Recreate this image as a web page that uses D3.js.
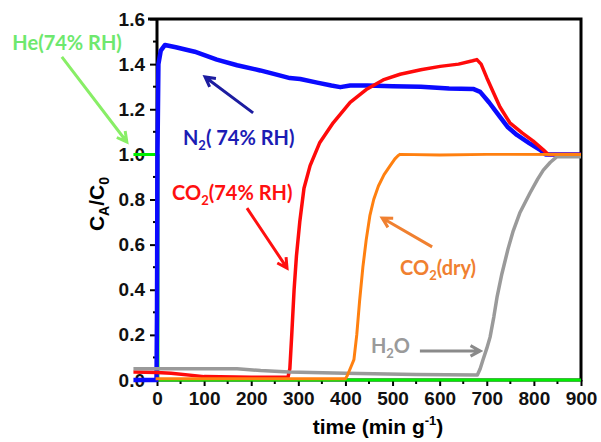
<!DOCTYPE html>
<html>
<head>
<meta charset="utf-8">
<script src="https://cdn.jsdelivr.net/npm/d3@7"></script>
<style>
body { margin: 0; background: #fff; }
svg { display: block; }
.tick text { font-family: "Liberation Sans", Arial, sans-serif; font-weight: bold; font-size: 19px; fill: #111; }
</style>
</head>
<body>
<div id="canvas"></div>
<script>
// time (min g-1), CA/C0
let heData = [[-50, 1.0], [2, 1.0], [2, 0.0], [900, 0.0]]
let n2Data = [[-50, 0.0], [-1, 0.0], [0, 0.3], [1, 1.0], [3, 1.40], [8, 1.46], [17, 1.485], [40, 1.475],
    [80, 1.455], [127, 1.42], [170, 1.395], [219, 1.372], [260, 1.35], [282, 1.338], [304, 1.334],
    [340, 1.318], [370, 1.305], [389, 1.298], [410, 1.305], [446, 1.305], [500, 1.302], [560, 1.30],
    [620, 1.292], [671, 1.29], [686, 1.277], [705, 1.23], [728, 1.166], [745, 1.12], [764, 1.086],
    [790, 1.05], [813, 1.02], [825, 1.0], [900, 1.0]]
let co2Data = [[-50, 0.035], [0, 0.033], [30, 0.03], [100, 0.015], [200, 0.012], [278, 0.012],
    [282, 0.05], [286, 0.2], [291, 0.4], [296, 0.55], [303, 0.7], [312, 0.85], [325, 0.95],
    [345, 1.05], [374, 1.14], [410, 1.23], [446, 1.29], [480, 1.33], [516, 1.355], [560, 1.375],
    [601, 1.39], [640, 1.40], [670, 1.415], [679, 1.42], [688, 1.40], [700, 1.34], [715, 1.27],
    [728, 1.21], [749, 1.14], [775, 1.095], [798, 1.06], [820, 1.02], [830, 1.0], [900, 1.0]]
let dryData = [[-3, 0.005], [400, 0.005], [404, 0.02], [412, 0.06], [418, 0.09], [424, 0.2],
    [430, 0.35], [437, 0.5], [444, 0.62], [452, 0.73], [460, 0.8], [470, 0.86], [482, 0.91],
    [495, 0.95], [505, 0.98], [512, 0.995], [516, 1.0], [600, 0.997], [700, 1.0], [900, 1.0]]
let h2oData = [[-50, 0.05], [170, 0.05], [220, 0.042], [280, 0.036], [400, 0.03], [550, 0.024],
    [680, 0.022], [686, 0.05], [692, 0.09], [700, 0.14], [707, 0.19], [715, 0.28], [722, 0.37],
    [732, 0.47], [745, 0.58], [756, 0.66], [770, 0.74], [792, 0.83], [808, 0.89], [820, 0.93],
    [835, 0.965], [849, 0.99], [900, 0.99]]

let xTicks = [0, 100, 200, 300, 400, 500, 600, 700, 800, 900]
let yTicks = [0.0, 0.2, 0.4, 0.6, 0.8, 1.0, 1.2, 1.4, 1.6]

let svg = d3.select('#canvas').append('svg')
    .attr('width', 601)
    .attr('height', 442)

let xScale = d3.scaleLinear().domain([0, 900]).range([157, 581])
let yScale = d3.scaleLinear().domain([0, 1.6]).range([380, 19])

// 座標軸
let xAxis = d3.axisBottom(xScale).tickValues(xTicks).tickFormat(d3.format('d')).tickSize(6).tickPadding(6)
let yAxis = d3.axisLeft(yScale).tickValues(yTicks).tickFormat(d3.format('.1f')).tickSize(7).tickPadding(5)

let gx = svg.append('g').attr('transform', 'translate(0, 380)').call(xAxis)
let gy = svg.append('g').attr('transform', 'translate(157, 0)').call(yAxis)
gx.select('.domain').remove()
gy.select('.domain').remove()
svg.selectAll('.tick line').attr('stroke', '#000').attr('stroke-width', 2)

// minor ticks
svg.append('g').selectAll('line')
    .data(d3.range(50, 900, 100))
    .enter().append('line')
    .attr('x1', d => xScale(d)).attr('x2', d => xScale(d))
    .attr('y1', 380).attr('y2', 384)
    .attr('stroke', '#000').attr('stroke-width', 2)
svg.append('g').selectAll('line')
    .data(d3.range(0.1, 1.6, 0.2))
    .enter().append('line')
    .attr('x1', 153).attr('x2', 157)
    .attr('y1', d => yScale(d)).attr('y2', d => yScale(d))
    .attr('stroke', '#000').attr('stroke-width', 2)

// 外框
svg.append('path')
    .attr('d', `M148,${yScale(1.6)} H${xScale(900)} V${yScale(0)} H${xScale(0)} V${yScale(1.6)}`)
    .attr('fill', 'none').attr('stroke', '#000').attr('stroke-width', 3)

let line = d3.line().x(d => xScale(d[0])).y(d => yScale(d[1]))

let series = [
    { data: heData, color: '#00ee00', width: 3 },
    { data: n2Data, color: '#0a0aff', width: 4.5 },
    { data: co2Data, color: '#ff0a0a', width: 3.5 },
    { data: h2oData, color: '#9a9a9a', width: 3.5 },
    { data: dryData, color: '#ff8010', width: 3 }
]
series.forEach(s => {
    svg.append('path')
        .datum(s.data)
        .attr('d', line)
        .attr('fill', 'none')
        .attr('stroke', s.color)
        .attr('stroke-width', s.width)
        .attr('stroke-linejoin', 'round')
})

// 註解與箭頭
let notes = [
    { parts: [['He(74% RH)', 0]], x: -307, y: 1.463, color: '#6ee86e', from: [-202, 1.432], to: [-64, 1.055], ac: '#88ee66' },
    { parts: [['N', 0], ['2', 1], ['( 74% RH)', 0]], x: 55, y: 1.042, color: '#1c1cb4', from: [204, 1.184], to: [102, 1.343], ac: '#1c1ca0' },
    { parts: [['CO', 0], ['2', 1], ['(74% RH)', 0]], x: 32, y: 0.798, color: '#ff1010', from: [191, 0.762], to: [276, 0.496], ac: '#ff1010' },
    { parts: [['CO', 0], ['2', 1], ['(dry)', 0]], x: 516, y: 0.465, color: '#f08030', from: [584, 0.59], to: [478, 0.718], ac: '#f08030' },
    { parts: [['H', 0], ['2', 1], ['O', 0]], x: 454, y: 0.12, color: '#9a9a9a', from: [558, 0.129], to: [686, 0.129], ac: '#8a8a8a' }
]

notes.forEach(n => {
    let t = svg.append('text')
        .attr('x', xScale(n.x)).attr('y', yScale(n.y))
        .attr('fill', n.color)
        .style('font-family', 'Lato, "Open Sans", sans-serif')
        .style('font-weight', 'bold')
        .style('font-size', '20px')
    let shift = 0
    n.parts.forEach(p => {
        let dy = p[1] ? 5 : -shift
        shift = p[1] ? 5 : 0
        t.append('tspan').text(p[0])
            .attr('dy', dy)
            .style('font-size', p[1] ? '13px' : '20px')
    })
    let x1 = xScale(n.from[0]), y1 = yScale(n.from[1])
    let x2 = xScale(n.to[0]), y2 = yScale(n.to[1])
    let a = Math.atan2(y2 - y1, x2 - x1)
    let h = 11
    svg.append('path')
        .attr('d', `M${x1},${y1} L${x2},${y2} M${x2 - h * Math.cos(a - 0.5)},${y2 - h * Math.sin(a - 0.5)} L${x2},${y2} L${x2 - h * Math.cos(a + 0.5)},${y2 - h * Math.sin(a + 0.5)}`)
        .attr('fill', 'none')
        .attr('stroke', n.ac)
        .attr('stroke-width', 3)
})

// 軸標題
let yl = svg.append('text')
    .attr('transform', 'translate(104, 204) rotate(-90)')
    .attr('text-anchor', 'middle')
    .style('font-family', '"Liberation Sans", Arial, sans-serif')
    .style('font-weight', 'bold')
    .style('font-size', '21px')
yl.append('tspan').text('C')
yl.append('tspan').text('A').attr('dy', 5).style('font-size', '14px')
yl.append('tspan').text('/C').attr('dy', -5)
yl.append('tspan').text('0').attr('dy', 5).style('font-size', '14px')

let xl = svg.append('text')
    .attr('x', 378).attr('y', 434)
    .attr('text-anchor', 'middle')
    .style('font-family', '"Liberation Sans", Arial, sans-serif')
    .style('font-weight', 'bold')
    .style('font-size', '21px')
xl.append('tspan').text('time (min g')
xl.append('tspan').text('-1').attr('dy', -9).style('font-size', '13px')
xl.append('tspan').text(')').attr('dy', 9)
</script>
</body>
</html>
